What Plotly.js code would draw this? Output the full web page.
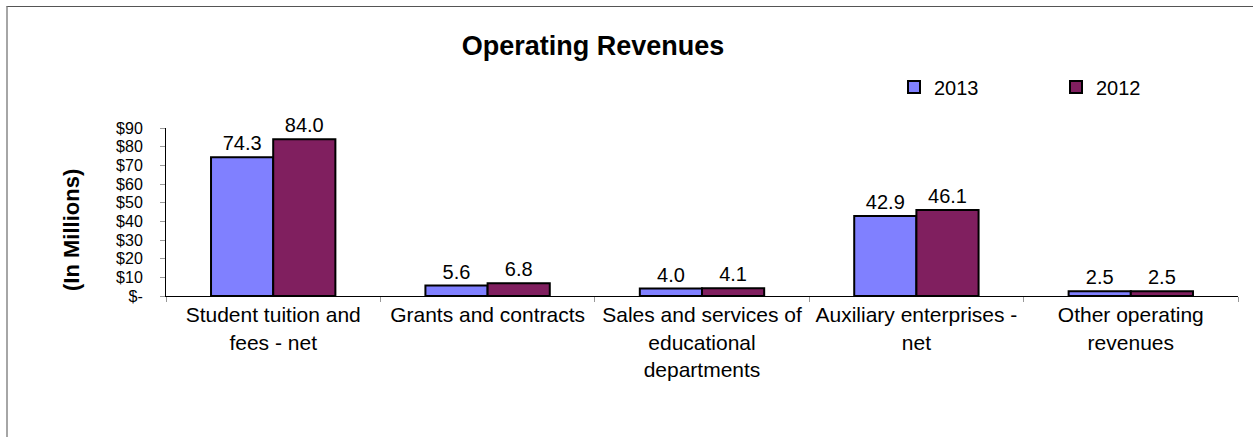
<!DOCTYPE html>
<html>
<head>
<meta charset="utf-8">
<script src="https://cdn.plot.ly/plotly-3.0.1.min.js"></script>
<style>
  html, body { margin: 0; padding: 0; background: #ffffff; overflow: hidden; }
  #frame { position: absolute; left: 6px; top: 6px; width: 1400px; height: 600px;
           border-left: 2px solid #a6a6a6; border-top: 1px solid #555555; box-sizing: border-box; }
  #chart { position: absolute; left: 0; top: 0; width: 1253px; height: 437px; }
</style>
</head>
<body>
<div id="frame"></div>
<div id="chart"></div>
<script>
const categories = [
  "Student tuition and<br>fees - net",
  "Grants and contracts",
  "Sales and services of<br>educational<br>departments",
  "Auxiliary enterprises -<br>net",
  "Other operating<br>revenues"
];
const values2013 = [74.3, 5.6, 4.0, 42.9, 2.5];
const values2012 = [84.0, 6.8, 4.1, 46.1, 2.5];
const yTickVals = [0, 10, 20, 30, 40, 50, 60, 70, 80, 90];
const yTickText = ["$-", "$10", "$20", "$30", "$40", "$50", "$60", "$70", "$80", "$90"];

const FONT = "Liberation Sans, Arial, sans-serif";

const traces = [
  {
    type: "bar", name: "2013", x: categories, y: values2013,
    marker: { color: "#8080ff", line: { color: "#000000", width: 2 } },
    text: values2013.map(v => v.toFixed(1)), textposition: "outside",
    textfont: { family: FONT, size: 20, color: "#000000" },
    cliponaxis: false, constraintext: "none", hoverinfo: "none"
  },
  {
    type: "bar", name: "2012", x: categories, y: values2012,
    marker: { color: "#801f5f", line: { color: "#000000", width: 2 } },
    text: values2012.map(v => v.toFixed(1)), textposition: "outside",
    textfont: { family: FONT, size: 20, color: "#000000" },
    cliponaxis: false, constraintext: "none", hoverinfo: "none"
  }
];

const layout = {
  width: 1253, height: 437,
  margin: { l: 166, r: 15, t: 128, b: 141, pad: 0 },
  paper_bgcolor: "rgba(0,0,0,0)",
  plot_bgcolor: "rgba(0,0,0,0)",
  font: { family: FONT, size: 20, color: "#000000" },
  barmode: "group",
  bargap: 0.42,
  bargroupgap: 0,
  title: {
    text: "<b>Operating Revenues</b>",
    font: { family: FONT, size: 27, color: "#000000" },
    xref: "container", x: 593 / 1253, xanchor: "center",
    yref: "container", y: 1 - 46 / 437, yanchor: "middle"
  },
  showlegend: true,
  legend: {
    orientation: "h",
    xref: "container", x: 894 / 1253, xanchor: "left",
    yref: "container", y: 1 - 87 / 437, yanchor: "middle",
    entrywidth: 117, entrywidthmode: "pixels",
    font: { family: FONT, size: 20, color: "#000000" },
    bgcolor: "rgba(0,0,0,0)",
    traceorder: "normal"
  },
  xaxis: {
    type: "category",
    showline: true, linecolor: "#000000", linewidth: 1,
    ticks: "outside", ticklen: 5, tickcolor: "#999999", tickwidth: 1,
    tickson: "boundaries",
    showgrid: false, zeroline: false,
    tickfont: { family: FONT, size: 21, color: "#000000" },
    fixedrange: true
  },
  yaxis: {
    range: [0, 90],
    tickvals: yTickVals, ticktext: yTickText,
    showline: true, linecolor: "#000000", linewidth: 1,
    ticks: "outside", ticklen: 5, tickcolor: "#999999", tickwidth: 1,
    ticklabelstandoff: 14,
    showgrid: false, zeroline: false,
    tickfont: { family: FONT, size: 16, color: "#000000" },
    fixedrange: true
  },
  annotations: [
    {
      text: "<b>(In Millions)</b>",
      textangle: -90,
      xref: "paper", yref: "paper",
      x: (71 - 166) / 1072, y: (296 - 230) / 168,
      xanchor: "center", yanchor: "middle",
      showarrow: false,
      font: { family: FONT, size: 22, color: "#000000" }
    }
  ]
};

Plotly.newPlot("chart", traces, layout, { displayModeBar: false, staticPlot: true });
</script>
</body>
</html>
